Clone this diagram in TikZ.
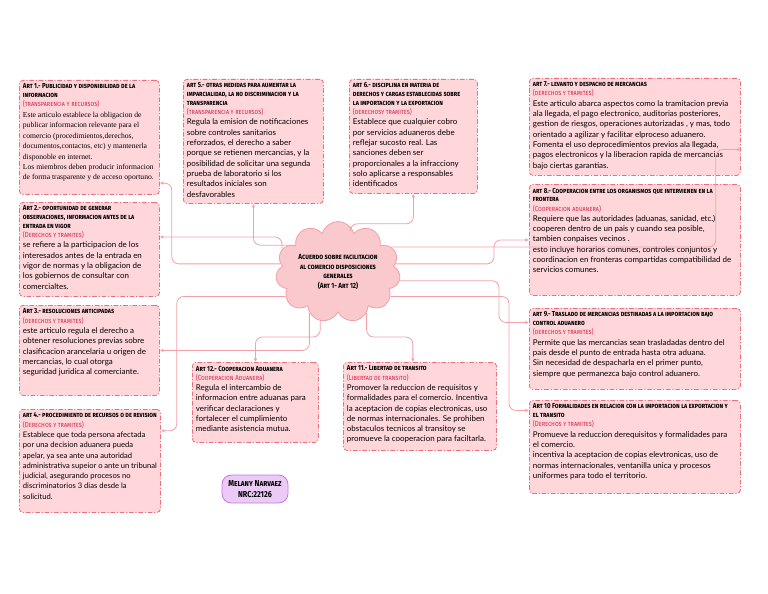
\documentclass[tikz,border=0pt]{standalone}
\usepackage{fontspec}
\usepackage{xcolor}
\usetikzlibrary{shapes.symbols,arrows.meta}
\setmainfont{Lato}
\newfontfamily\headfont[FakeStretch=0.84]{Fira Sans}
\newfontfamily\serifbody{Liberation Serif}
\definecolor{boxpink}{HTML}{FFD7DB}
\definecolor{boxred}{HTML}{EC6F7D}
\definecolor{subred}{HTML}{D1264B}
\definecolor{linkpink}{HTML}{F3A1A9}
\definecolor{cloudpink}{HTML}{FAC9CD}
\definecolor{namefill}{HTML}{EBCBF6}
\definecolor{nameline}{HTML}{C478E3}
\newlength\pxu \setlength\pxu{0.03cm}
\newcommand{\arthead}{\headfont\bfseries\scshape\fontsize{6.2}{7.5}\selectfont}
\newcommand{\artsub}{\color{subred}\headfont\scshape\fontsize{6.2}{7.8}\selectfont}
\newcommand{\artbody}{\fontsize{6.8}{8.8}\selectfont}
\newcommand{\artxt}[3]{\parbox[c][\dimexpr#2\pxu-6pt\relax][t]{\dimexpr#1\pxu-6pt\relax}{\raggedright #3}}

\begin{document}
\begin{tikzpicture}[x=0.03cm,y=-0.03cm,
    artbox/.style={draw=boxred,fill=boxpink,line width=0.7pt,rounded corners=3pt,
      dash pattern=on 4pt off 1.5pt on 1pt off 1.5pt,inner sep=3pt,anchor=north west},
    link/.style={draw=linkpink,line width=0.7pt,rounded corners=6pt,-{Latex[length=3pt,width=3pt]}}]
        \useasboundingbox (0,0) rectangle (768,593);
        % Centre
        \node[cloud,cloud puffs=11,aspect=1.4,draw=linkpink,fill=cloudpink,line width=0.7pt,
          minimum width=92\pxu,minimum height=68\pxu,inner sep=0pt,align=center,
          font=\headfont\bfseries\scshape\fontsize{6.4}{8.4}\selectfont] (acuerdo) at (338,272)
          {Acuerdo sobre facilitacion\\al comercio disposiciones\\generales\\(Art 1- Art 12)};
        % Left column
        \node[artbox] (a1) at (19,80) {\artxt{140}{114}{%
          {\arthead Art 1.- Publicidad y disponibilidad de la\\informacion\par}
          {\artsub (transparencia y recursos)\par}
          {\serifbody\fontsize{6.5}{8.9}\selectfont Este articulo establece la obligacion de\\publicar informacion relevante para el\\comercio (procedimientos,derechos,\\documentos,contactos, etc) y mantenerla\\disponoble en internet.\\Los miembros deben producir informacion\\de forma trasparente y de acceso oportuno.\par}}};
        \node[artbox] (a2) at (19,202) {\artxt{140}{94}{%
          {\arthead Art 2.- oportunidad de generar\\observaciones,  informacion antes de la\\entrada en vigor\par}
          {\artsub (Derechos y tramites)\par}
          {\artbody se refiere a la participacion de los\\interesados antes de la entrada en\\vigor de normas y la obligacion de\\los gobiernos de consultar con\\comercialtes.\par}}};
        \node[artbox] (a3) at (19,305) {\artxt{140}{90}{%
          {\arthead Art 3.- resoluciones anticipadas\par}
          {\artsub (derechos y tramites)\par}
          {\artbody este articulo regula el derecho a\\obtener resoluciones previas sobre\\clasificacion arancelaria u origen de\\mercancias, lo cual otorga\\seguridad juridica al comerciante.\par}}};
        \node[artbox] (a4) at (19,409) {\artxt{141}{103}{%
          {\arthead art 4.- procedimiento de recursos o de revision\par}
          {\artsub (Derechos y tramites)\par}
          {\fontsize{6.5}{8.8}\selectfont Establece que toda persona afectada\\por una decision aduanera pueda\\apelar, ya sea ante una autoridad\\administrativa supeior o ante un tribunal\\judicial, asegurando procesos no\\discriminatorios 3 dias desde la\\solicitud.\par}}};
        % Top
        \node[artbox] (a5) at (183,79) {\artxt{140}{124}{%
          {\arthead art 5.- otras medidas para aumentar la\\imparcialidad, la no discriminacion y la\\transparencia\par}
          {\artsub (transparencia y recursos)\par}
          {\artbody Regula la emision de notificaciones\\sobre controles sanitarios\\reforzados, el derecho a saber\\porque se  retienen mercancias, y la\\posibilidad de solicitar una segunda\\prueba de laboratorio si los\\resultados iniciales son\\desfavorables\par}}};
        \node[artbox] (a6) at (349,79) {\artxt{128}{114}{%
          {\arthead art 6.- disciplina en materia de\\derechos y cargas establecidas sobre\\la importacion y la exportacion\par}
          {\artsub (derechosy tramites)\par}
          {\artbody Establece que cualquier cobro\\por servicios aduaneros debe\\reflejar sucosto real. Las\\sanciones deben ser\\proporcionales a la infracciony\\solo aplicarse a responsables\\identificados\par}}};
        % Right column
        \node[artbox] (a7) at (529,78) {\artxt{211}{97}{%
          {\arthead art 7.- levanto y despacho de mercancias\par}
          {\artsub (derechos y tramites)\par}
          {\artbody Este articulo abarca aspectos como la tramitacion previa\\ala llegada, el pago electronico, auditorias posteriores,\\gestion de riesgos, operaciones autorizadas , y mas, todo\\orientado a agilizar y facilitar elproceso aduanero.\\Fomenta el uso deprocedimientos previos ala llegada,\\pagos electronicos y la liberacion rapida de mercancias\\bajo ciertas garantias.\par}}};
        \node[artbox] (a8) at (529,184) {\artxt{211}{111}{%
          {\arthead art 8.- Cooperacion entre los organismos que intervienen en la\\frontera\par}
          {\artsub (Cooperacion aduanera)\par}
          {\artbody Requiere que las autoridades (aduanas, sanidad, etc.)\\cooperen dentro de un pais y cuando sea posible,\\tambien conpaises vecinos .\\esto incluye horarios comunes, controles conjuntos y\\coordinacion en fronteras compartidas compatibilidad de\\servicios comunes.\par}}};
        \node[artbox] (a9) at (529,308) {\artxt{211}{81}{%
          {\arthead art 9.- Traslado de mercancias destinadas a la importacion bajo\\control aduanero\par}
          {\artsub (derechos y tramites)\par}
          {\artbody Permite que las mercancias sean trasladadas dentro del\\pais desde el punto de entrada hasta otra aduana.\\Sin necesidad de despacharla en el primer punto,\\siempre que permanezca bajo control  aduanero.\par}}};
        \node[artbox] (a10) at (529,400) {\artxt{211}{93}{%
          {\arthead Art 10 Formalidades en relacion con la importacion la exportacion y\\el transito\par}
          {\artsub (Derechos y tramites)\par}
          {\artbody Promueve la reduccion derequisitos y formalidades para\\el comercio.\\incentiva la aceptacion de copias elevtronicas, uso de\\normas internacionales, ventanilla unica y procesos\\uniformes para todo el territorio.\par}}};
        % Bottom
        \node[artbox] (a11) at (343,362) {\artxt{153}{88}{%
          {\arthead Art 11.- Libertad de transito\par}
          {\artsub (Libertad de transito)\par}
          {\artbody Promover la reduccion de requisitos y\\formalidades para el comercio. Incentiva\\la aceptacion de copias electronicas, uso\\de normas internacionales. Se prohiben\\obstaculos tecnicos al transitoy se\\promueve la cooperacion para faciltarla.\par}}};
        \node[artbox] (a12) at (192,362) {\artxt{126}{80}{%
          {\arthead Art 12.- Cooperacion Aduanera\par}
          {\artsub (Cooperacion Aduanera)\par}
          {\artbody Regula el intercambio de\\informacion entre aduanas para\\verificar declaraciones y\\fortalecer el cumplimiento\\mediante asistencia mutua.\par}}};
        \node[draw=nameline,fill=namefill,line width=0.7pt,rounded corners=8pt,
          minimum width=66\pxu,minimum height=28\pxu,inner sep=1pt,align=center,
          font=\headfont\bfseries\scshape\fontsize{7.4}{9}\selectfont] (autor) at (255,489)
          {Melany Narvaez\\NRC:22126};
        % Links
        \draw[link] (acuerdo.172) -| ([xshift=12\pxu]a1.-33) -- (a1.-33);
        \draw[link] (acuerdo.158) |- (a2.10);
        \draw[link] (acuerdo.235) |- (a3.east);
        \draw[link] (acuerdo.205) -| ([xshift=16\pxu]a4.23) -- (a4.23);
        \draw[link] (acuerdo.148) -| (a5.south);
        \draw[link] (acuerdo.75) |- ([yshift=-30\pxu]a6.south) -- (a6.south);
        \draw[link] (acuerdo.25) -| ([xshift=-25\pxu]a7.-12) -- (a7.-12);
        \draw[link] (acuerdo.8) -| ([xshift=-35\pxu]a8.west) -- (a8.west);
        \draw[link] (acuerdo.-8) -| ([xshift=-30\pxu]a9.166) -- (a9.166);
        \draw[link] (acuerdo.-25) -| ([xshift=-20\pxu]a10.161) -- (a10.161);
        \draw[link] (acuerdo.-55) |- ([yshift=25\pxu]a11.99) -- (a11.99);
        \draw[link] (acuerdo.-110) |- ([yshift=25\pxu]a12.north) -- (a12.north);
    \end{tikzpicture}
\end{document}
